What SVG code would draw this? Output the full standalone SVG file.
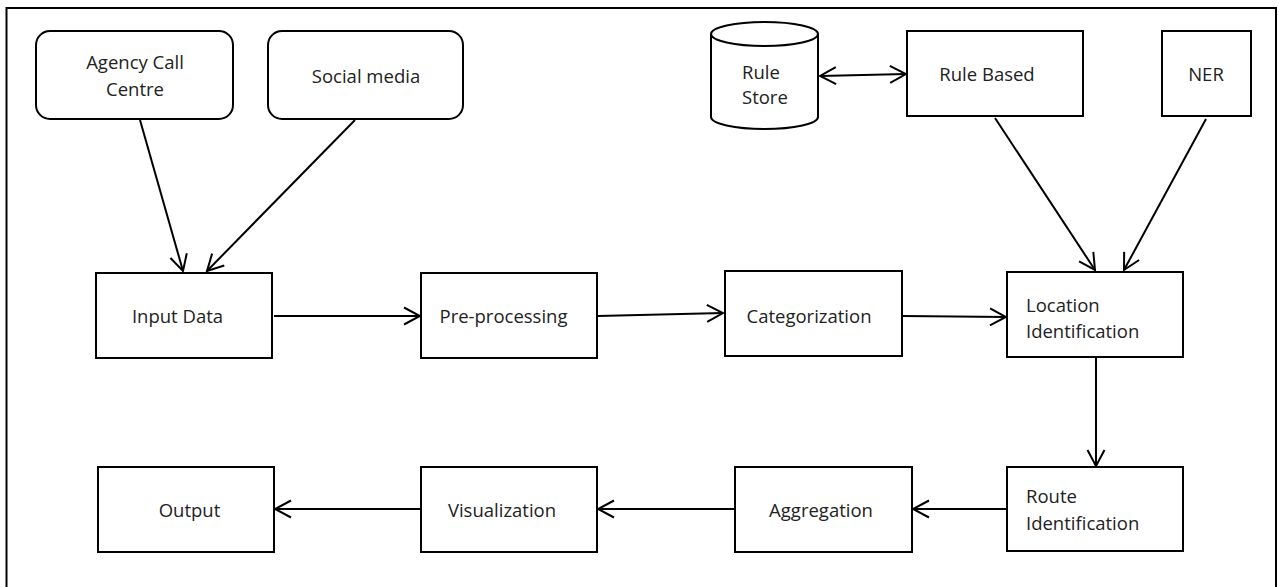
<svg xmlns="http://www.w3.org/2000/svg" width="1279" height="587" viewBox="0 0 1279 587">
<style>
.box{fill:#fff;stroke:#000;stroke-width:2}
.t{font-family:"Open Sans","Noto Sans","Liberation Sans",sans-serif;font-size:18.5px;fill:#222}
.m{text-anchor:middle}
.c{fill:none;stroke:#000;stroke-width:2}
.ar{marker-end:url(#ah)}
</style>
<defs>
<marker id="ah" markerUnits="userSpaceOnUse" markerWidth="20" markerHeight="22" viewBox="-18 -11 20 22" refX="0" refY="0" orient="auto-start-reverse">
<path d="M-16,-8.5 L0,0 L-16,8.5" fill="none" stroke="#000" stroke-width="2"/>
</marker>
</defs>
<path id="frame" d="M6.5,600 V8 H1276 V600" fill="none" stroke="#000" stroke-width="2"/>
<g id="agency"><rect class="box" x="36" y="31" width="197" height="88" rx="14"/><text class="t m" x="135" y="69">Agency Call</text><text class="t m" x="135" y="96">Centre</text></g>
<g id="social"><rect class="box" x="268" y="31" width="195" height="88" rx="14"/><text class="t m" x="366" y="83">Social media</text></g>
<g id="rulestore"><path class="box" d="M711,34 V117 A53.5,12 0 0 0 818,117 V34 A53.5,12 0 0 0 711,34 A53.5,12 0 0 0 818,34"/><text class="t" x="742" y="79">Rule</text><text class="t" x="742" y="104">Store</text></g>
<g id="rulebased"><rect class="box" x="907" y="31" width="176" height="85"/><text class="t m" x="987" y="81">Rule Based</text></g>
<g id="ner"><rect class="box" x="1162" y="31" width="89" height="85"/><text class="t m" x="1206" y="81">NER</text></g>
<g id="input"><rect class="box" x="96" y="273" width="176" height="85"/><text class="t m" x="177.5" y="323">Input Data</text></g>
<g id="preprocessing"><rect class="box" x="421" y="273" width="176" height="85"/><text class="t m" x="503.5" y="323">Pre-processing</text></g>
<g id="categorization"><rect class="box" x="725" y="271" width="177" height="85"/><text class="t m" x="809" y="323">Categorization</text></g>
<g id="location"><rect class="box" x="1007" y="272" width="176" height="85"/><text class="t" x="1026" y="312">Location</text><text class="t" x="1026" y="338">Identification</text></g>
<g id="route"><rect class="box" x="1007" y="467" width="176" height="84"/><text class="t" x="1026" y="503">Route</text><text class="t" x="1026" y="530">Identification</text></g>
<g id="aggregation"><rect class="box" x="735" y="467" width="177" height="85"/><text class="t m" x="821" y="517">Aggregation</text></g>
<g id="visualization"><rect class="box" x="421" y="467" width="176" height="85"/><text class="t m" x="502" y="517">Visualization</text></g>
<g id="output"><rect class="box" x="98" y="467" width="176" height="85"/><text class="t m" x="189.5" y="517">Output</text></g>
<g id="connectors">
<line class="c ar" x1="140" y1="120" x2="183" y2="271"/>
<line class="c ar" x1="355" y1="120" x2="207" y2="271"/>
<line class="c ar" x1="274" y1="316" x2="420" y2="316"/>
<line class="c ar" x1="598" y1="316" x2="723" y2="313"/>
<line class="c ar" x1="903" y1="316" x2="1006" y2="317"/>
<line class="c ar" x1="820" y1="76" x2="906" y2="74" marker-start="url(#ah)"/>
<line class="c ar" x1="995" y1="118" x2="1095" y2="270"/>
<line class="c ar" x1="1206" y1="119" x2="1124" y2="270"/>
<line class="c ar" x1="1096" y1="358" x2="1096" y2="466"/>
<line class="c ar" x1="1006" y1="509" x2="913" y2="509"/>
<line class="c ar" x1="734" y1="509" x2="598" y2="509"/>
<line class="c ar" x1="420" y1="509" x2="275" y2="509"/>
</g>
</svg>
